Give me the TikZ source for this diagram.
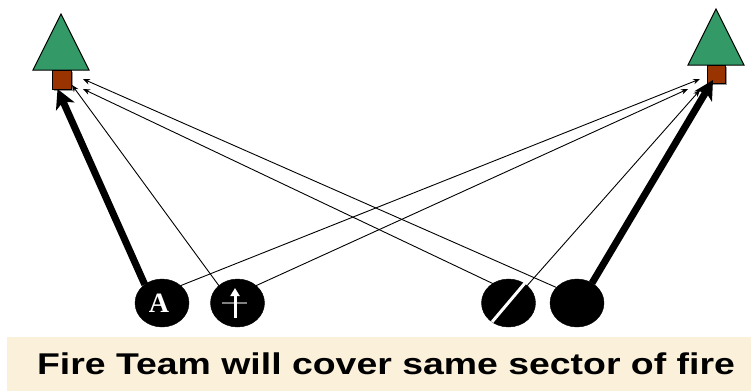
\documentclass[tikz,border=0pt]{standalone}
\usepackage{fontspec}
\setmainfont{Liberation Sans}
\newfontfamily\serifbold{Liberation Serif}
\usetikzlibrary{arrows.meta,shapes.geometric}
\definecolor{treegreen}{HTML}{339966}
\definecolor{trunkbrown}{HTML}{993300}
\definecolor{bandcream}{HTML}{FBF0DA}
\tikzset{
  soldier/.style={draw=black,fill=black,ellipse,minimum width=54pt,minimum height=48pt,inner sep=0pt,outer sep=0pt},
  tree/.style={draw=black,line width=1pt,fill=treegreen,line join=miter},
  trunk/.style={draw=black,line width=1pt,fill=trunkbrown},
  trunkshadow/.style={fill=black!40},
  thinfire/.style={line width=0.9pt,-{Stealth[length=7pt,width=5.5pt]}},
  mainfire/.style={line width=7pt,-{Stealth[length=19pt,width=20pt,inset=5pt]}},
  whitemark/.style={draw=white,line width=3pt},
}
\begin{document}
\begin{tikzpicture}[x=1pt,y=-1pt]
\useasboundingbox (0,0) rectangle (751,391);
\fill[bandcream] (7,337) rectangle (751,391);
% trees
\fill[trunkshadow] (53.5,71.5) rectangle (72.5,90.5);
\draw[tree] (61,14) -- (89,70) -- (33,70) -- cycle;
\draw[trunk] (52,70) rectangle (71,89);
\fill[trunkshadow] (708.5,66.5) rectangle (727,85);
\draw[tree] (716,9) -- (744,65) -- (688,65) -- cycle;
\draw[trunk] (707,65) rectangle (725.5,83.5);
% soldiers
\node[soldier,text=white] (a) at (162,303) {};
\node[soldier] (b) at (237.5,303) {};
\node[soldier] (c) at (508.5,303) {};
\node[soldier] (d) at (577,303) {};
\node[text=white,font=\serifbold\bfseries\fontsize{28}{28}\selectfont,anchor=base,inner sep=0pt] (alabel) at (159,312) {A};
% rifleman mark
\draw[draw=gray,line width=1.5pt] (222,303) -- (247,303);
\draw[white,line width=3pt,-{Triangle[length=8pt,width=9pt]}] (235,318) -- (235,288);
% slash
\draw[whitemark] (492,322) -- (525,283);
% aim points
\coordinate (ltreemain) at (57.5,89);
\coordinate (ltreeb) at (72,85);
\coordinate (ltreec) at (83,89);
\coordinate (ltreed) at (83,79);
\coordinate (rtreemain) at (713,80);
\coordinate (rtreea) at (700,79);
\coordinate (rtreeb) at (688,89);
\coordinate (rtreec) at (700,90);
% connectors
\draw[mainfire] (a.133) -- (ltreemain);
\draw[mainfire] (d.53) -- (rtreemain);
\draw[thinfire] (a.43) -- (rtreea);
\draw[thinfire] (b.137) -- (ltreeb);
\draw[thinfire] (b.43) -- (rtreeb);
\draw[thinfire] (c.129) -- (ltreec);
\draw[thinfire] (c.43) -- (rtreec);
\draw[thinfire] (d.143) -- (ltreed);
% caption
\node[font=\bfseries\fontsize{30}{30}\selectfont,anchor=base,inner sep=0pt] (caption) at (386,374.5) {\scalebox{1.247}[1]{Fire Team will cover same sector of fire}};
\end{tikzpicture}
\end{document}
